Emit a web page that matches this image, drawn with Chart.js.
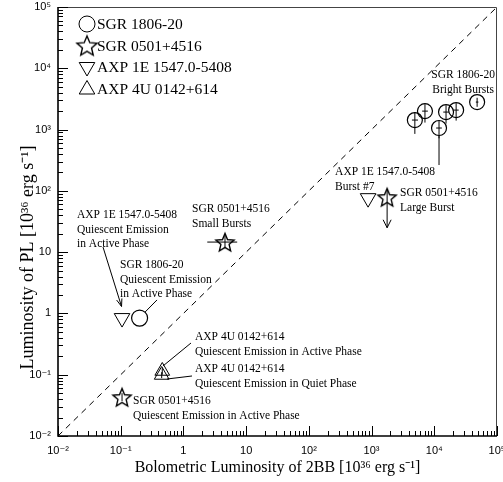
<!DOCTYPE html>
<html><head><meta charset="utf-8">
<script src="https://cdn.jsdelivr.net/npm/chart.js@4"></script>
<style>html,body{margin:0;padding:0;background:#fff}canvas{display:block}</style>
</head><body><canvas id="c" width="503" height="482"></canvas>
<script>
// ---------- data ----------
const legendNames = ['SGR 1806-20','SGR 0501+4516','AXP 1E 1547.0-5408','AXP 4U 0142+614'];
const tickValues = [0.01,0.1,1,10,100,1000,10000,100000];
const tickLabels = ['10\u207B\u00B2','10\u207B\u00B9','1','10','10\u00B2','10\u00B3','10\u2074','10\u2075'];
const xTitle = 'Bolometric Luminosity of 2BB [10\u00B3\u2076 erg s\u207B\u00B9]';
const yTitle = 'Luminosity of PL [10\u00B3\u2076 erg s\u207B\u00B9]';

// SGR 1806-20: six bright bursts + quiescent emission
const sgr1806X   = [4900, 7100, 11900, 15400, 22300, 48200, 0.2];
const sgr1806Y   = [1430, 2000, 1060, 1930, 2080, 2810, 0.84];
const sgr1806XLo = [4400, 6400, 10700, 13900, 20300, 46000, null];
const sgr1806XHi = [5500, 7900, 13200, 17100, 24500, 50500, null];
const sgr1806YLo = [850, 1300, 720, 1250, 1400, 2350, null];
const sgr1806YHi = [1900, 2600, 1400, 2500, 2700, 3300, null];

// SGR 0501+4516: large burst (upper limit), small bursts, quiescent
const sgr0501X   = [1770, 4.6, 0.105];
const sgr0501Y   = [79, 14.6, 0.043];
const sgr0501XLo = [null, 2.4, null];
const sgr0501XHi = [null, 7.2, null];
const sgr0501YLo = [null, 11.5, 0.037];
const sgr0501YHi = [null, 18.5, 0.05];
const sgr0501UL  = [25, null, null];

// AXP 1E 1547.0-5408: burst #7, quiescent in active phase
const axp1547X = [880, 0.105];
const axp1547Y = [76, 0.84];

// AXP 4U 0142+614: quiescent active / quiet phase
const axp0142X   = [0.46, 0.45];
const axp0142Y   = [0.115, 0.099];
const axp0142YLo = [0.1, 0.088];
const axp0142YHi = [0.13, 0.11];

// text annotations (anchor in data coords)
const noteText = [
  ['SGR 1806-20','Bright Bursts'],
  ['AXP 1E 1547.0-5408','Burst #7'],
  ['SGR 0501+4516','Large Burst'],
  ['SGR 0501+4516','Small Bursts'],
  ['AXP 1E 1547.0-5408','Quiescent Emission','in Active Phase'],
  ['SGR 1806-20','Quiescent Emission','in Active Phase'],
  ['AXP 4U 0142+614','Quiescent Emission in Active Phase'],
  ['AXP 4U 0142+614','Quiescent Emission in Quiet Phase'],
  ['SGR 0501+4516','Quiescent Emission in Active Phase']
];
const noteX = [28800, 262, 2850, 1.37, 0.0201, 0.0975, 1.53, 1.53, 0.157];
const noteY = [7700, 203, 92, 50, 40.3, 6.17, 0.412, 0.124, 0.0372];
const noteAlign = ['center','left','left','left','left','left','left','left','left'];
// leader lines [x1,y1,x2,y2], arrowhead flag
const leaderLines = [
  [11900, 264, 11900, 783],
  [0.0522, 12.1, 0.103, 1.3],
  [0.244, 1.05, 0.379, 1.66],
  [0.473, 0.139, 1.32, 0.329],
  [0.547, 0.0851, 1.37, 0.0953]
];
const leaderArrow = [false, true, false, false, false];

// ---------- helpers ----------
function zip(xs, ys){ return xs.map((v,i)=>({x:v, y:ys[i]})); }
function starImg(size, lw){
  const c=document.createElement('canvas'); c.width=c.height=size;
  const g=c.getContext('2d'); const R=size/2-lw, r=R*0.45, cy=size/2+R*0.1;
  g.beginPath();
  for(let i=0;i<10;i++){const a=-Math.PI/2+i*Math.PI/5; const rr=i%2?r:R; g.lineTo(size/2+rr*Math.cos(a), cy+rr*Math.sin(a));}
  g.closePath(); g.lineWidth=lw; g.strokeStyle='#000'; g.stroke(); return c;
}
const starPt = starImg(22, 1.4);
const starLeg = starImg(24, 1.4);
const SERIF = "'Liberation Serif','Times New Roman',serif";
const SANS = "'Liberation Sans','DejaVu Sans',sans-serif";
const noPad = () => ({left:0, top:0, right:0, bottom:0});
// title sits lower than the axis centre in the original: pad its top end
const yTitleShown = yTitle + '\u00A0'.repeat(16);

const frameTicks = {
  id:'frameTicks',
  afterDraw(chart){
    const {ctx, chartArea:a, scales:{x,y}} = chart;
    ctx.save();
    ctx.strokeStyle='#444'; ctx.lineWidth=1;
    ctx.beginPath(); ctx.moveTo(a.left,a.top+0.5); ctx.lineTo(a.right-0.5,a.top+0.5); ctx.lineTo(a.right-0.5,a.bottom); ctx.stroke();
    ctx.strokeStyle='#000'; ctx.lineWidth=1.6;
    ctx.beginPath(); ctx.moveTo(a.left,a.top); ctx.lineTo(a.left,a.bottom); ctx.lineTo(a.right,a.bottom); ctx.stroke();
    ctx.lineWidth=1;
    ctx.beginPath();
    for(let e=-2;e<=5;e++){
      for(let m=1;m<=9;m++){
        const v=m*Math.pow(10,e); if(v>1e5*1.0001) break;
        const len = m===1?10:5;
        const px=Math.round(x.getPixelForValue(v))+0.5;
        ctx.moveTo(px,a.bottom); ctx.lineTo(px,a.bottom-len);
        const py=Math.round(y.getPixelForValue(v))+0.5;
        ctx.moveTo(a.left,py); ctx.lineTo(a.left+len,py);
      }
    }
    ctx.stroke();
    ctx.restore();
  }
};

const errPlugin = {
  id:'errs',
  afterDatasetsDraw(chart){
    const {ctx, scales:{x,y}} = chart;
    ctx.save(); ctx.strokeStyle='#000'; ctx.lineWidth=1;
    chart.data.datasets.forEach(ds=>{
      if(!ds.err) return;
      const e=ds.err;
      ds.data.forEach((p,i)=>{
        const px=x.getPixelForValue(p.x), py=y.getPixelForValue(p.y);
        ctx.beginPath();
        if(e.xlo && e.xlo[i]!=null){ctx.moveTo(x.getPixelForValue(e.xlo[i]),py);ctx.lineTo(x.getPixelForValue(e.xhi[i]),py);}
        if(e.ylo && e.ylo[i]!=null){ctx.moveTo(px,y.getPixelForValue(e.ylo[i]));ctx.lineTo(px,y.getPixelForValue(e.yhi[i]));}
        ctx.stroke();
        if(e.ul && e.ul[i]!=null){
          const yl=y.getPixelForValue(e.ul[i]);
          ctx.beginPath(); ctx.moveTo(px,py-8); ctx.lineTo(px,yl);
          ctx.moveTo(px-4,yl-8); ctx.lineTo(px,yl); ctx.lineTo(px+4,yl-8); ctx.stroke();
        }
      });
    });
    ctx.restore();
  }
};

const notesPlugin = {
  id:'notes',
  afterDatasetsDraw(chart){
    const {ctx, scales:{x,y}} = chart;
    ctx.save();
    ctx.fillStyle='#000'; ctx.font='11.5px '+SERIF; ctx.textBaseline='middle';
    noteText.forEach((lines,i)=>{
      const px=x.getPixelForValue(noteX[i]), py=y.getPixelForValue(noteY[i]);
      ctx.textAlign=noteAlign[i];
      lines.forEach((t,k)=>ctx.fillText(t,px,py+k*14.5));
    });
    ctx.strokeStyle='#000'; ctx.lineWidth=1;
    leaderLines.forEach((l,i)=>{
      const x1=x.getPixelForValue(l[0]), y1=y.getPixelForValue(l[1]);
      const x2=x.getPixelForValue(l[2]), y2=y.getPixelForValue(l[3]);
      ctx.beginPath(); ctx.moveTo(x1,y1); ctx.lineTo(x2,y2); ctx.stroke();
      if(leaderArrow[i]){
        const ang=Math.atan2(y2-y1,x2-x1), L=8, w=0.35;
        ctx.beginPath();
        ctx.moveTo(x2-L*Math.cos(ang-w), y2-L*Math.sin(ang-w));
        ctx.lineTo(x2,y2);
        ctx.lineTo(x2-L*Math.cos(ang+w), y2-L*Math.sin(ang+w));
        ctx.stroke();
      }
    });
    ctx.restore();
  }
};

const legendPlugin = {
  id:'legendBox',
  afterDraw(chart){
    const {ctx} = chart;
    const styles = [
      {pointStyle:'circle', radius:8, borderWidth:1},
      {pointStyle:starLeg, radius:11},
      {pointStyle:'triangle', radius:9, rotation:180, borderWidth:1},
      {pointStyle:'triangle', radius:9, rotation:0, borderWidth:1}
    ];
    ctx.save();
    ctx.font='15.5px '+SERIF; ctx.fillStyle='#000'; ctx.textBaseline='middle'; ctx.textAlign='left';
    legendNames.forEach((n,i)=>{
      const cx=87, cy=24+21.5*i;
      ctx.strokeStyle='#000'; ctx.fillStyle='rgba(0,0,0,0)'; ctx.lineWidth=1;
      Chart.helpers.drawPoint(ctx, styles[i], cx, cy + (i===3?1:0));
      ctx.fillStyle='#000';
      ctx.fillText(n, 97, cy+1);
    });
    ctx.restore();
  }
};

const decadeTicks = s => { s.ticks = tickValues.map(v=>({value:v, major:true})); };
const tickFmt = v => { const i = tickValues.findIndex(t=>Math.abs(t-v)/t<1e-6); return i>=0?tickLabels[i]:''; };

new Chart(document.getElementById('c'), {
  data:{
    datasets:[
      {type:'line', label:'equal', data:[{x:0.01,y:0.01},{x:1e5,y:1e5}], borderColor:'#000', borderWidth:1,
       borderDash:[6,5], pointRadius:0, fill:false, order:5},
      {type:'scatter', label:legendNames[0], data:zip(sgr1806X,sgr1806Y), pointStyle:'circle', pointRadius:[7.5,7.5,7.5,7.5,7.5,7.5,8],
       borderColor:'#000', backgroundColor:'rgba(0,0,0,0)', borderWidth:1.2,
       err:{xlo:sgr1806XLo,xhi:sgr1806XHi,ylo:sgr1806YLo,yhi:sgr1806YHi}},
      {type:'scatter', label:legendNames[1], data:zip(sgr0501X,sgr0501Y), pointStyle:starPt, pointRadius:10,
       err:{xlo:sgr0501XLo,xhi:sgr0501XHi,ylo:sgr0501YLo,yhi:sgr0501YHi,ul:sgr0501UL}},
      {type:'scatter', label:legendNames[2], data:zip(axp1547X,axp1547Y), pointStyle:'triangle', rotation:180, pointRadius:9,
       borderColor:'#000', backgroundColor:'rgba(0,0,0,0)', borderWidth:1},
      {type:'scatter', label:legendNames[3], data:zip(axp0142X,axp0142Y), pointStyle:'triangle', pointRadius:8.5,
       borderColor:'#000', backgroundColor:'rgba(0,0,0,0)', borderWidth:1,
       err:{ylo:axp0142YLo,yhi:axp0142YHi}}
    ]
  },
  options:{
    responsive:false, animation:false, devicePixelRatio:1,
    layout:{autoPadding:false, padding:{top:7,right:6,left:0,bottom:0}},
    plugins:{legend:{display:false}, tooltip:{enabled:false}},
    scales:{
      x:{type:'logarithmic', position:'bottom', min:0.01, max:1e5,
         grid:{display:false, drawTicks:false}, border:{display:false},
         afterBuildTicks:decadeTicks,
         afterFit:s=>{s.height=46; s.paddingLeft=0; s.paddingRight=0; s.getPadding=noPad;},
         ticks:{autoSkip:false, maxRotation:0, padding:8, color:'#000', font:{family:SANS,size:11}, callback:tickFmt},
         title:{display:true, text:xTitle, color:'#000', font:{family:SERIF,size:16}, padding:{top:0,bottom:5}}},
      y:{type:'logarithmic', position:'left', min:0.01, max:1e5,
         grid:{display:false, drawTicks:false}, border:{display:false},
         afterBuildTicks:decadeTicks,
         afterFit:s=>{s.width=58; s.paddingTop=0; s.paddingBottom=0; s.getPadding=noPad;},
         ticks:{autoSkip:false, padding:7, color:'#000', font:{family:SANS,size:11}, callback:tickFmt},
         title:{display:true, text:yTitleShown, color:'#000', font:{family:SERIF,size:18}, padding:{top:17,bottom:0}}}
    }
  },
  plugins:[frameTicks, errPlugin, notesPlugin, legendPlugin]
});
</script>
</body></html>
